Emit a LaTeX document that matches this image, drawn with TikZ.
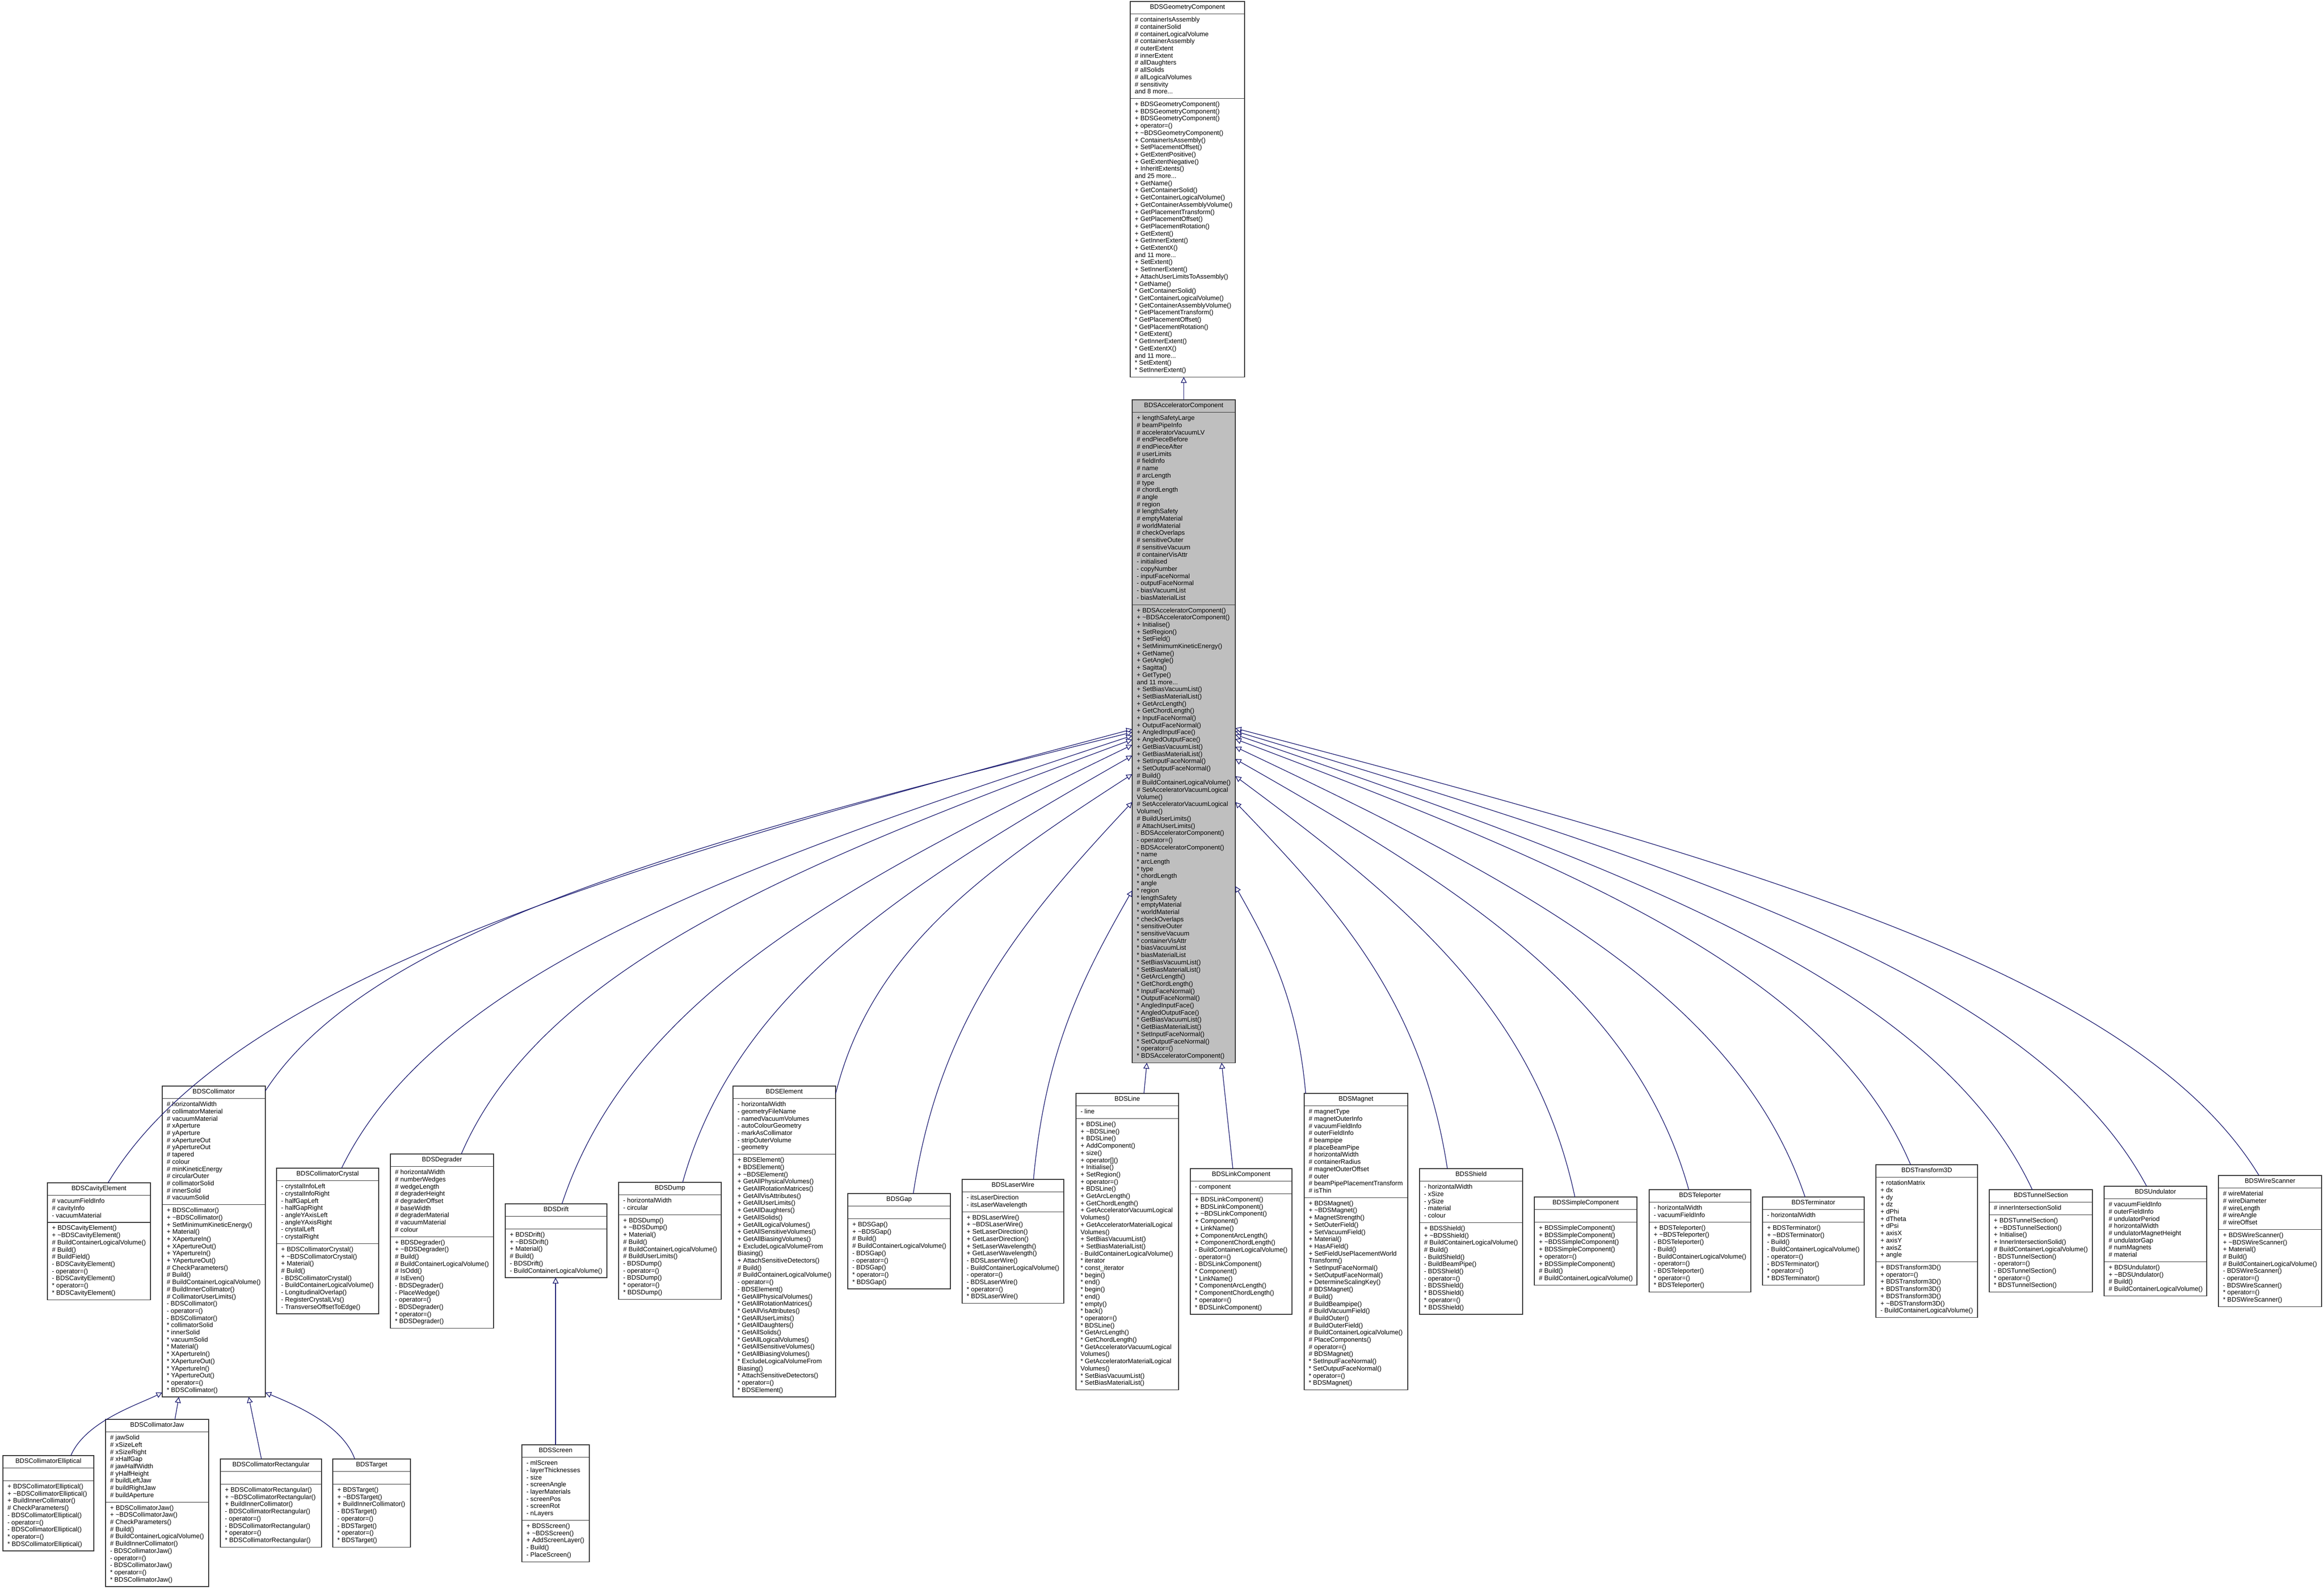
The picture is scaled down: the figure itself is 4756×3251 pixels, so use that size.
\documentclass[tikz,border=0pt]{standalone}
\usepackage{fontspec}
\setmainfont{Liberation Sans}
\usetikzlibrary{arrows.meta,calc}
\definecolor{edgeblue}{HTML}{191970}
\definecolor{accgray}{HTML}{BFBFBF}
\definecolor{boxcol}{HTML}{333333}
\newcommand\clsfont{\fontsize{6.6pt}{7.35pt}\selectfont}
\newcommand\fs{\rule{0pt}{5.5pt}}
\def\cfill{white}
\tikzset{
  clsbox/.style={draw=boxcol, line width=0.6pt, anchor=north west, inner sep=0pt, outer sep=0pt},
  clsline/.style={draw=boxcol, line width=0.6pt},
  clstitle/.style={anchor=base, inner sep=0pt, font=\clsfont},
  clstext/.style={anchor=north west, align=left, inner sep=0pt, font=\clsfont},
  inh/.style={draw=edgeblue, line width=0.65pt, -{Triangle[length=6pt,width=6pt,fill=white]}}
}
% #1 name, #2 x1, #3 x2, #4 top, #5 title, #6 nattr, #7 attrs, #8 nmeth, #9 meths
\newcommand\cls[9]{%
  \ifnum#6=0 \def\hA{25.8}\else\pgfmathsetmacro\hA{#6*14.7+11.1}\fi
  \pgfmathsetmacro\yA{#4+25.8}%
  \pgfmathsetmacro\yB{\yA+\hA}%
  \pgfmathsetmacro\yC{\yB+#8*14.7+11.1}%
  \pgfmathsetmacro\bw{(#3-#2)*0.5}%
  \pgfmathsetmacro\bh{(\yC-#4)*0.5}%
  \pgfmathsetmacro\xm{(#2+#3)/2}%
  \node[clsbox,fill=\cfill,minimum width=\bw pt,minimum height=\bh pt] (#1) at (#2,#4) {};
  \draw[clsline] (#2,\yA) -- (#3,\yA) (#2,\yB) -- (#3,\yB);
  \node[clstitle] (#1-t) at (\xm,#4+15.5) {#5};
  \ifnum#6>0 \node[clstext] (#1-a) at (#2+9,\yA+4.5) {\fs#7};\fi
  \node[clstext] (#1-m) at (#2+9,\yB+4.5) {\fs#9};
}
\begin{document}
\begin{tikzpicture}[x=0.5pt,y=-0.5pt]
\fill[white] (0,0) rectangle (4756,3251);
\useasboundingbox (0,0) rectangle (4756,3251);

% ---------------- BDSGeometryComponent
\cls{geo}{2313}{2547}{3}{BDSGeometryComponent}{11}{\# containerIsAssembly\\\# containerSolid\\\# containerLogicalVolume\\\# containerAssembly\\\# outerExtent\\\# innerExtent\\\# allDaughters\\\# allSolids\\\# allLogicalVolumes\\\# sensitivity\\and 8 more...}{38}{+ BDSGeometryComponent()\\+ BDSGeometryComponent()\\+ BDSGeometryComponent()\\+ operator=()\\+ \textasciitilde BDSGeometryComponent()\\+ ContainerIsAssembly()\\+ SetPlacementOffset()\\+ GetExtentPositive()\\+ GetExtentNegative()\\+ InheritExtents()\\and 25 more...\\+ GetName()\\+ GetContainerSolid()\\+ GetContainerLogicalVolume()\\+ GetContainerAssemblyVolume()\\+ GetPlacementTransform()\\+ GetPlacementOffset()\\+ GetPlacementRotation()\\+ GetExtent()\\+ GetInnerExtent()\\+ GetExtentX()\\and 11 more...\\+ SetExtent()\\+ SetInnerExtent()\\+ AttachUserLimitsToAssembly()\\{}* GetName()\\{}* GetContainerSolid()\\{}* GetContainerLogicalVolume()\\{}* GetContainerAssemblyVolume()\\{}* GetPlacementTransform()\\{}* GetPlacementOffset()\\{}* GetPlacementRotation()\\{}* GetExtent()\\{}* GetInnerExtent()\\{}* GetExtentX()\\and 11 more...\\{}* SetExtent()\\{}* SetInnerExtent()}

% ---------------- BDSAcceleratorComponent
\def\cfill{accgray}
\cls{acc}{2317}{2528}{818}{BDSAcceleratorComponent}{26}{+ lengthSafetyLarge\\\# beamPipeInfo\\\# acceleratorVacuumLV\\\# endPieceBefore\\\# endPieceAfter\\\# userLimits\\\# fieldInfo\\\# name\\\# arcLength\\\# type\\\# chordLength\\\# angle\\\# region\\\# lengthSafety\\\# emptyMaterial\\\# worldMaterial\\\# checkOverlaps\\\# sensitiveOuter\\\# sensitiveVacuum\\\# containerVisAttr\\- initialised\\- copyNumber\\- inputFaceNormal\\- outputFaceNormal\\- biasVacuumList\\- biasMaterialList}{63}{+ BDSAcceleratorComponent()\\+ \textasciitilde BDSAcceleratorComponent()\\+ Initialise()\\+ SetRegion()\\+ SetField()\\+ SetMinimumKineticEnergy()\\+ GetName()\\+ GetAngle()\\+ Sagitta()\\+ GetType()\\and 11 more...\\+ SetBiasVacuumList()\\+ SetBiasMaterialList()\\+ GetArcLength()\\+ GetChordLength()\\+ InputFaceNormal()\\+ OutputFaceNormal()\\+ AngledInputFace()\\+ AngledOutputFace()\\+ GetBiasVacuumList()\\+ GetBiasMaterialList()\\+ SetInputFaceNormal()\\+ SetOutputFaceNormal()\\\# Build()\\\# BuildContainerLogicalVolume()\\\# SetAcceleratorVacuumLogical\\Volume()\\\# SetAcceleratorVacuumLogical\\Volume()\\\# BuildUserLimits()\\\# AttachUserLimits()\\- BDSAcceleratorComponent()\\- operator=()\\- BDSAcceleratorComponent()\\{}* name\\{}* arcLength\\{}* type\\{}* chordLength\\{}* angle\\{}* region\\{}* lengthSafety\\{}* emptyMaterial\\{}* worldMaterial\\{}* checkOverlaps\\{}* sensitiveOuter\\{}* sensitiveVacuum\\{}* containerVisAttr\\{}* biasVacuumList\\{}* biasMaterialList\\{}* SetBiasVacuumList()\\{}* SetBiasMaterialList()\\{}* GetArcLength()\\{}* GetChordLength()\\{}* InputFaceNormal()\\{}* OutputFaceNormal()\\{}* AngledInputFace()\\{}* AngledOutputFace()\\{}* GetBiasVacuumList()\\{}* GetBiasMaterialList()\\{}* SetInputFaceNormal()\\{}* SetOutputFaceNormal()\\{}* operator=()\\{}* BDSAcceleratorComponent()}
\def\cfill{white}

% ---------------- children row
\cls{cav}{97}{308}{2420}{BDSCavityElement}{3}{\# vacuumFieldInfo\\\# cavityInfo\\- vacuumMaterial}{10}{+ BDSCavityElement()\\+ \textasciitilde BDSCavityElement()\\\# BuildContainerLogicalVolume()\\\# Build()\\\# BuildField()\\- BDSCavityElement()\\- operator=()\\- BDSCavityElement()\\{}* operator=()\\{}* BDSCavityElement()}

\cls{coll}{332}{543}{2222}{BDSCollimator}{14}{\# horizontalWidth\\\# collimatorMaterial\\\# vacuumMaterial\\\# xAperture\\\# yAperture\\\# xApertureOut\\\# yApertureOut\\\# tapered\\\# colour\\\# minKineticEnergy\\\# circularOuter\\\# collimatorSolid\\\# innerSolid\\\# vacuumSolid}{26}{+ BDSCollimator()\\+ \textasciitilde BDSCollimator()\\+ SetMinimumKineticEnergy()\\+ Material()\\+ XApertureIn()\\+ XApertureOut()\\+ YApertureIn()\\+ YApertureOut()\\\# CheckParameters()\\\# Build()\\\# BuildContainerLogicalVolume()\\\# BuildInnerCollimator()\\\# CollimatorUserLimits()\\- BDSCollimator()\\- operator=()\\- BDSCollimator()\\{}* collimatorSolid\\{}* innerSolid\\{}* vacuumSolid\\{}* Material()\\{}* XApertureIn()\\{}* XApertureOut()\\{}* YApertureIn()\\{}* YApertureOut()\\{}* operator=()\\{}* BDSCollimator()}

\cls{cry}{566}{775}{2390}{BDSCollimatorCrystal}{8}{- crystalInfoLeft\\- crystalInfoRight\\- halfGapLeft\\- halfGapRight\\- angleYAxisLeft\\- angleYAxisRight\\- crystalLeft\\- crystalRight}{9}{+ BDSCollimatorCrystal()\\+ \textasciitilde BDSCollimatorCrystal()\\+ Material()\\\# Build()\\- BDSCollimatorCrystal()\\- BuildContainerLogicalVolume()\\- LongitudinalOverlap()\\- RegisterCrystalLVs()\\- TransverseOffsetToEdge()}

\cls{deg}{799}{1010}{2361}{BDSDegrader}{9}{\# horizontalWidth\\\# numberWedges\\\# wedgeLength\\\# degraderHeight\\\# degraderOffset\\\# baseWidth\\\# degraderMaterial\\\# vacuumMaterial\\\# colour}{12}{+ BDSDegrader()\\+ \textasciitilde BDSDegrader()\\\# Build()\\\# BuildContainerLogicalVolume()\\\# IsOdd()\\\# IsEven()\\- BDSDegrader()\\- PlaceWedge()\\- operator=()\\- BDSDegrader()\\{}* operator=()\\{}* BDSDegrader()}

\cls{drift}{1034}{1242}{2463}{BDSDrift}{0}{}{6}{+ BDSDrift()\\+ \textasciitilde BDSDrift()\\+ Material()\\\# Build()\\- BDSDrift()\\- BuildContainerLogicalVolume()}

\cls{dump}{1266}{1476}{2419}{BDSDump}{2}{- horizontalWidth\\- circular}{11}{+ BDSDump()\\+ \textasciitilde BDSDump()\\+ Material()\\\# Build()\\\# BuildContainerLogicalVolume()\\\# BuildUserLimits()\\- BDSDump()\\- operator=()\\- BDSDump()\\{}* operator=()\\{}* BDSDump()}

\cls{elem}{1500}{1710}{2222}{BDSElement}{7}{- horizontalWidth\\- geometryFileName\\- namedVacuumVolumes\\- autoColourGeometry\\- markAsCollimator\\- stripOuterVolume\\- geometry}{33}{+ BDSElement()\\+ BDSElement()\\+ \textasciitilde BDSElement()\\+ GetAllPhysicalVolumes()\\+ GetAllRotationMatrices()\\+ GetAllVisAttributes()\\+ GetAllUserLimits()\\+ GetAllDaughters()\\+ GetAllSolids()\\+ GetAllLogicalVolumes()\\+ GetAllSensitiveVolumes()\\+ GetAllBiasingVolumes()\\+ ExcludeLogicalVolumeFrom\\Biasing()\\+ AttachSensitiveDetectors()\\\# Build()\\\# BuildContainerLogicalVolume()\\- operator=()\\- BDSElement()\\{}* GetAllPhysicalVolumes()\\{}* GetAllRotationMatrices()\\{}* GetAllVisAttributes()\\{}* GetAllUserLimits()\\{}* GetAllDaughters()\\{}* GetAllSolids()\\{}* GetAllLogicalVolumes()\\{}* GetAllSensitiveVolumes()\\{}* GetAllBiasingVolumes()\\{}* ExcludeLogicalVolumeFrom\\Biasing()\\{}* AttachSensitiveDetectors()\\{}* operator=()\\{}* BDSElement()}

\cls{gap}{1735}{1945}{2442}{BDSGap}{0}{}{9}{+ BDSGap()\\+ \textasciitilde BDSGap()\\\# Build()\\\# BuildContainerLogicalVolume()\\- BDSGap()\\- operator=()\\- BDSGap()\\{}* operator=()\\{}* BDSGap()}

\cls{laser}{1969}{2177}{2413}{BDSLaserWire}{2}{- itsLaserDirection\\- itsLaserWavelength}{12}{+ BDSLaserWire()\\+ \textasciitilde BDSLaserWire()\\+ SetLaserDirection()\\+ GetLaserDirection()\\+ SetLaserWavelength()\\+ GetLaserWavelength()\\- BDSLaserWire()\\- BuildContainerLogicalVolume()\\- operator=()\\- BDSLaserWire()\\{}* operator=()\\{}* BDSLaserWire()}

\cls{line}{2202}{2412}{2237}{BDSLine}{1}{- line}{37}{+ BDSLine()\\+ \textasciitilde BDSLine()\\+ BDSLine()\\+ AddComponent()\\+ size()\\+ operator[]()\\+ Initialise()\\+ SetRegion()\\+ operator=()\\+ BDSLine()\\+ GetArcLength()\\+ GetChordLength()\\+ GetAcceleratorVacuumLogical\\Volumes()\\+ GetAcceleratorMaterialLogical\\Volumes()\\+ SetBiasVacuumList()\\+ SetBiasMaterialList()\\- BuildContainerLogicalVolume()\\{}* iterator\\{}* const\_iterator\\{}* begin()\\{}* end()\\{}* begin()\\{}* end()\\{}* empty()\\{}* back()\\{}* operator=()\\{}* BDSLine()\\{}* GetArcLength()\\{}* GetChordLength()\\{}* GetAcceleratorVacuumLogical\\Volumes()\\{}* GetAcceleratorMaterialLogical\\Volumes()\\{}* SetBiasVacuumList()\\{}* SetBiasMaterialList()}

\cls{link}{2436}{2644}{2391}{BDSLinkComponent}{1}{- component}{16}{+ BDSLinkComponent()\\+ BDSLinkComponent()\\+ \textasciitilde BDSLinkComponent()\\+ Component()\\+ LinkName()\\+ ComponentArcLength()\\+ ComponentChordLength()\\- BuildContainerLogicalVolume()\\- operator=()\\- BDSLinkComponent()\\{}* Component()\\{}* LinkName()\\{}* ComponentArcLength()\\{}* ComponentChordLength()\\{}* operator=()\\{}* BDSLinkComponent()}

\cls{mag}{2669}{2881}{2237}{BDSMagnet}{12}{\# magnetType\\\# magnetOuterInfo\\\# vacuumFieldInfo\\\# outerFieldInfo\\\# beampipe\\\# placeBeamPipe\\\# horizontalWidth\\\# containerRadius\\\# magnetOuterOffset\\\# outer\\\# beamPipePlacementTransform\\\# isThin}{26}{+ BDSMagnet()\\+ \textasciitilde BDSMagnet()\\+ MagnetStrength()\\+ SetOuterField()\\+ SetVacuumField()\\+ Material()\\+ HasAField()\\+ SetFieldUsePlacementWorld\\Transform()\\+ SetInputFaceNormal()\\+ SetOutputFaceNormal()\\+ DetermineScalingKey()\\\# BDSMagnet()\\\# Build()\\\# BuildBeampipe()\\\# BuildVacuumField()\\\# BuildOuter()\\\# BuildOuterField()\\\# BuildContainerLogicalVolume()\\\# PlaceComponents()\\\# operator=()\\\# BDSMagnet()\\{}* SetInputFaceNormal()\\{}* SetOutputFaceNormal()\\{}* operator=()\\{}* BDSMagnet()}

\cls{shield}{2905}{3116}{2391}{BDSShield}{5}{- horizontalWidth\\- xSize\\- ySize\\- material\\- colour}{12}{+ BDSShield()\\+ \textasciitilde BDSShield()\\\# BuildContainerLogicalVolume()\\\# Build()\\- BuildShield()\\- BuildBeamPipe()\\- BDSShield()\\- operator=()\\- BDSShield()\\{}* BDSShield()\\{}* operator=()\\{}* BDSShield()}

\cls{simple}{3140}{3350}{2449}{BDSSimpleComponent}{0}{}{8}{+ BDSSimpleComponent()\\+ BDSSimpleComponent()\\+ \textasciitilde BDSSimpleComponent()\\+ BDSSimpleComponent()\\+ operator=()\\+ BDSSimpleComponent()\\\# Build()\\\# BuildContainerLogicalVolume()}

\cls{tele}{3375}{3583}{2434}{BDSTeleporter}{2}{- horizontalWidth\\- vacuumFieldInfo}{9}{+ BDSTeleporter()\\+ \textasciitilde BDSTeleporter()\\- BDSTeleporter()\\- Build()\\- BuildContainerLogicalVolume()\\- operator=()\\- BDSTeleporter()\\{}* operator=()\\{}* BDSTeleporter()}

\cls{term}{3607}{3815}{2449}{BDSTerminator}{1}{- horizontalWidth}{8}{+ BDSTerminator()\\+ \textasciitilde BDSTerminator()\\- Build()\\- BuildContainerLogicalVolume()\\- operator=()\\- BDSTerminator()\\{}* operator=()\\{}* BDSTerminator()}

\cls{trd}{3839}{4047}{2383}{BDSTransform3D}{11}{+ rotationMatrix\\+ dx\\+ dy\\+ dz\\+ dPhi\\+ dTheta\\+ dPsi\\+ axisX\\+ axisY\\+ axisZ\\+ angle}{7}{+ BDSTransform3D()\\+ operator=()\\+ BDSTransform3D()\\+ BDSTransform3D()\\+ BDSTransform3D()\\+ \textasciitilde BDSTransform3D()\\- BuildContainerLogicalVolume()}

\cls{tunnel}{4071}{4282}{2434}{BDSTunnelSection}{1}{\# innerIntersectionSolid}{10}{+ BDSTunnelSection()\\+ \textasciitilde BDSTunnelSection()\\+ Initialise()\\+ InnerIntersectionSolid()\\\# BuildContainerLogicalVolume()\\- BDSTunnelSection()\\- operator=()\\- BDSTunnelSection()\\{}* operator=()\\{}* BDSTunnelSection()}

\cls{und}{4306}{4516}{2427}{BDSUndulator}{8}{\# vacuumFieldInfo\\\# outerFieldInfo\\\# undulatorPeriod\\\# horizontalWidth\\\# undulatorMagnetHeight\\\# undulatorGap\\\# numMagnets\\\# material}{4}{+ BDSUndulator()\\+ \textasciitilde BDSUndulator()\\\# Build()\\\# BuildContainerLogicalVolume()}

\cls{wire}{4540}{4751}{2405}{BDSWireScanner}{5}{\# wireMaterial\\\# wireDiameter\\\# wireLength\\\# wireAngle\\\# wireOffset}{10}{+ BDSWireScanner()\\+ \textasciitilde BDSWireScanner()\\+ Material()\\\# Build()\\\# BuildContainerLogicalVolume()\\- BDSWireScanner()\\- operator=()\\- BDSWireScanner()\\{}* operator=()\\{}* BDSWireScanner()}

% ---------------- bottom row
\cls{ell}{6}{192}{2978}{BDSCollimatorElliptical}{0}{}{9}{+ BDSCollimatorElliptical()\\+ \textasciitilde BDSCollimatorElliptical()\\+ BuildInnerCollimator()\\\# CheckParameters()\\- BDSCollimatorElliptical()\\- operator=()\\- BDSCollimatorElliptical()\\{}* operator=()\\{}* BDSCollimatorElliptical()}

\cls{jaw}{216}{427}{2904}{BDSCollimatorJaw}{9}{\# jawSolid\\\# xSizeLeft\\\# xSizeRight\\\# xHalfGap\\\# jawHalfWidth\\\# yHalfHeight\\\# buildLeftJaw\\\# buildRightJaw\\\# buildAperture}{11}{+ BDSCollimatorJaw()\\+ \textasciitilde BDSCollimatorJaw()\\\# CheckParameters()\\\# Build()\\\# BuildContainerLogicalVolume()\\\# BuildInnerCollimator()\\- BDSCollimatorJaw()\\- operator=()\\- BDSCollimatorJaw()\\{}* operator=()\\{}* BDSCollimatorJaw()}

\cls{rect}{451}{658}{2985}{BDSCollimatorRectangular}{0}{}{8}{+ BDSCollimatorRectangular()\\+ \textasciitilde BDSCollimatorRectangular()\\+ BuildInnerCollimator()\\- BDSCollimatorRectangular()\\- operator=()\\- BDSCollimatorRectangular()\\{}* operator=()\\{}* BDSCollimatorRectangular()}

\cls{targ}{681}{840}{2985}{BDSTarget}{0}{}{8}{+ BDSTarget()\\+ \textasciitilde BDSTarget()\\+ BuildInnerCollimator()\\- BDSTarget()\\- operator=()\\- BDSTarget()\\{}* operator=()\\{}* BDSTarget()}

\cls{scr}{1068}{1206}{2956}{BDSScreen}{8}{- mlScreen\\- layerThicknesses\\- size\\- screenAngle\\- layerMaterials\\- screenPos\\- screenRot\\- nLayers}{5}{+ BDSScreen()\\+ \textasciitilde BDSScreen()\\+ AddScreenLayer()\\- Build()\\- PlaceScreen()}

% ---------------- inheritance connectors
\draw[inh] (acc.north) -- (acc.north |- geo.south);

\draw[inh] ($(cav.north west)+(124,0)$) .. controls +(252,-418) and +(-1048,278) .. ($(acc.north west)+(0,674)$);
\draw[inh] ($(coll.north east)+(0,10)$) .. controls +(213,-330) and +(-887,220) .. ($(acc.north west)+(0,680)$);
\draw[inh] ($(cry.north west)+(133,0)$) .. controls +(194,-398) and +(-809,266) .. ($(acc.north west)+(0,687)$);
\draw[inh] ($(deg.north west)+(145,0)$) .. controls +(165,-382) and +(-687,254) .. ($(acc.north west)+(0,695)$);
\draw[inh] ($(drift.north west)+(116,0)$) .. controls +(140,-423) and +(-584,282) .. ($(acc.north west)+(0,706)$);
\draw[inh] ($(dump.north west)+(131,0)$) .. controls +(110,-393) and +(-460,262) .. ($(acc.north west)+(0,728)$);
\draw[inh] ($(elem.north east)+(0,16)$) .. controls +(73,-294) and +(-304,196) .. ($(acc.north west)+(0,766)$);
\draw[inh] ($(gap.north west)+(134,0)$) .. controls +(54,-360) and +(-224,240) .. ($(acc.north west)+(0,823)$);
\draw[inh] ($(laser.north west)+(146,0)$) .. controls +(24,-266) and +(-101,177) .. ($(acc.north west)+(0,1004)$);

\draw[inh] ($(line.north west)+(139,0)$) -- ($(acc.south west)+(30,0)$);
\draw[inh] ($(link.north west)+(87,0)$) -- ($(acc.south west)+(183,0)$);

\draw[inh] ($(mag.north west)+(3,0)$) .. controls +(-17,-191) and +(72,127) .. ($(acc.north east)+(0,995)$);
\draw[inh] ($(shield.north west)+(57,0)$) .. controls +(-52,-338) and +(217,225) .. ($(acc.north east)+(0,823)$);
\draw[inh] ($(simple.north west)+(83,0)$) .. controls +(-83,-387) and +(348,258) .. ($(acc.north east)+(0,770)$);
\draw[inh] ($(tele.north west)+(81,0)$) .. controls +(-111,-396) and +(464,264) .. ($(acc.north east)+(0,735)$);
\draw[inh] ($(term.north west)+(87,0)$) .. controls +(-140,-414) and +(583,276) .. ($(acc.north east)+(0,710)$);
\draw[inh] ($(trd.north west)+(71,0)$) .. controls +(-166,-392) and +(691,261) .. ($(acc.north east)+(0,694)$);
\draw[inh] ($(tunnel.north west)+(88,0)$) .. controls +(-196,-419) and +(816,279) .. ($(acc.north east)+(0,685)$);
\draw[inh] ($(und.north west)+(87,0)$) .. controls +(-224,-419) and +(933,279) .. ($(acc.north east)+(0,678)$);
\draw[inh] ($(wire.north west)+(83,0)$) .. controls +(-251,-412) and +(1048,275) .. ($(acc.north east)+(0,672)$);

\draw[inh] ($(ell.north west)+(139,0)$) .. controls +(30,-70) and +(-50,25) .. ($(coll.south west)+(0,-9)$);
\draw[inh] ($(jaw.north west)+(142,0)$) -- ($(coll.south west)+(34,0)$);
\draw[inh] ($(rect.north west)+(84,0)$) -- ($(coll.south west)+(177,0)$);
\draw[inh] ($(targ.north west)+(45,0)$) .. controls +(-25,-70) and +(60,25) .. ($(coll.south east)+(0,-9)$);

\draw[inh] (scr.north) -- (scr.north |- drift.south);
\end{tikzpicture}
\end{document}
